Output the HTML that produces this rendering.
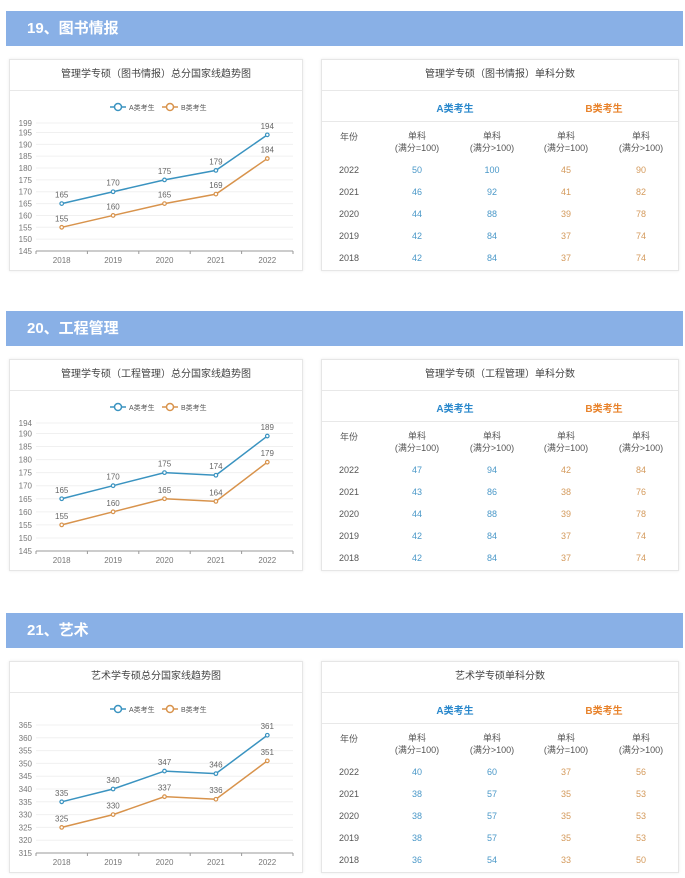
<!DOCTYPE html>
<html><head><meta charset="utf-8">
<style>
body{margin:0;width:685px;height:878px;background:#fff;font-family:"Liberation Sans","Noto Sans CJK SC",sans-serif;position:relative;overflow:hidden}
.hdr{position:absolute;left:6px;width:677px;height:35px;background:#89b0e6;color:#fff;font-weight:bold;font-size:15px;line-height:35px;padding-left:21px;box-sizing:border-box}
.card{position:absolute;background:#fff;border:1px solid #e6e6e6;box-shadow:0 0 3px rgba(0,0,0,.08);box-sizing:border-box}
.ctitle{position:absolute;left:0;right:0;top:0;height:30px;line-height:30px;text-align:center;font-size:10px;color:#444;border-bottom:1px solid #e8e8e8}
.tbl{position:absolute;font-size:9px;color:#555;text-align:center}
svg text{font-family:"Liberation Sans","Noto Sans CJK SC",sans-serif}
</style></head><body>
<div id="root"></div>
<script>
const sections=[
 {num:"19、图书情报",title:"管理学专硕（图书情报）总分国家线趋势图",ttitle:"管理学专硕（图书情报）单科分数",top:11},
 {num:"20、工程管理",title:"管理学专硕（工程管理）总分国家线趋势图",ttitle:"管理学专硕（工程管理）单科分数",top:311},
 {num:"21、艺术",title:"艺术学专硕总分国家线趋势图",ttitle:"艺术学专硕单科分数",top:613}
];
const years=["2018","2019","2020","2021","2022"];
const seriesA=[[165,170,175,179,194],[165,170,175,174,189],[335,340,347,346,361]];
const seriesB=[[155,160,165,169,184],[155,160,165,164,179],[325,330,337,336,351]];
const yTicks=[[199,195,190,185,180,175,170,165,160,155,150,145],[194,190,185,180,175,170,165,160,155,150,145],[365,360,355,350,345,340,335,330,325,320,315]];
const tableYears=["2022","2021","2020","2019","2018"];
const tA1=[[50,46,44,42,42],[47,43,44,42,42],[40,38,38,38,36]];
const tA2=[[100,92,88,84,84],[94,86,88,84,84],[60,57,57,57,54]];
const tB1=[[45,41,39,37,37],[42,38,39,37,37],[37,35,35,35,33]];
const tB2=[[90,82,78,74,74],[84,76,78,74,74],[56,53,53,53,50]];
const root=document.getElementById('root');
const cA="#3a93c0",cB="#d8934c";
sections.forEach((s,i)=>{
 const h=document.createElement('div');h.className='hdr';h.style.top=s.top+'px';h.textContent=s.num;
 root.appendChild(h);
 const ct=s.top+48;
 // chart card
 const c=document.createElement('div');c.className='card';c.style.cssText=`left:9px;top:${ct}px;width:294px;height:212px`;
 
 c.innerHTML=`<div class="ctitle">${s.title}</div>`;
 const W=294,H=212,x0=26,x1=283,yT=63,yB=191;
 const tk=yTicks[i],ymax=tk[0],ymin=tk[tk.length-1];
 const sy=v=>yB-(v-ymin)/(ymax-ymin)*(yB-yT);
 const bw=(x1-x0)/years.length;const sx=j=>x0+bw*(j+0.5);
 let g=`<svg width="${W}" height="${H}" style="position:absolute;left:0;top:0">`;
 g+=`<g><line x1="100" y1="47" x2="116" y2="47" stroke="${cA}" stroke-width="1.5"/><circle cx="108" cy="47" r="3.5" fill="#fff" stroke="${cA}" stroke-width="1.5"/><text x="119" y="50" font-size="7" fill="#555">A类考生</text>
 <line x1="152" y1="47" x2="168" y2="47" stroke="${cB}" stroke-width="1.5"/><circle cx="160" cy="47" r="3.5" fill="#fff" stroke="${cB}" stroke-width="1.5"/><text x="171" y="50" font-size="7" fill="#555">B类考生</text></g>`;
 tk.forEach(t=>{const y=sy(t);g+=`<line x1="${x0}" x2="${x1}" y1="${y}" y2="${y}" stroke="#f0f0f0"/><text x="22" y="${y+3}" font-size="8" fill="#777" text-anchor="end">${t}</text>`;});
 g+=`<line x1="${x0}" x2="${x1}" y1="${yB}" y2="${yB}" stroke="#999"/>`;
 for(let j=0;j<=years.length;j++)g+=`<line x1="${x0+bw*j}" x2="${x0+bw*j}" y1="${yB}" y2="${yB+3}" stroke="#999"/>`;
 years.forEach((yv,j)=>g+=`<text x="${sx(j)}" y="${yB+12}" font-size="8" fill="#777" text-anchor="middle">${yv}</text>`);
 [[seriesA[i],cA,'a'],[seriesB[i],cB,'b']].forEach(([d,col,n])=>{
  g+=`<polyline fill="none" stroke="${col}" stroke-width="1.5" points="${d.map((v,j)=>sx(j)+','+sy(v)).join(' ')}"/>`;
  d.forEach((v,j)=>{g+=`<circle cx="${sx(j)}" cy="${sy(v)}" r="1.8" fill="#fff" stroke="${col}" stroke-width="1.2"/><text x="${sx(j)}" y="${sy(v)-6}" font-size="8" fill="#666" text-anchor="middle">${v}</text>`;});
 });
 g+='</svg>';c.innerHTML+=g;root.appendChild(c);
 // table card
 const t=document.createElement('div');t.className='card';t.style.cssText=`left:321px;top:${ct}px;width:358px;height:212px`;
 
 let html=`<div class="ctitle">${s.ttitle}</div>`;
 html+=`<div style="position:absolute;top:30px;left:0;right:0;height:31px;border-bottom:1px solid #e8e8e8"></div>`;
 html+=`<div class="tbl" style="left:83px;width:100px;top:40px;font-size:10px;font-weight:bold;color:#2a88cc">A类考生</div>`;
 html+=`<div class="tbl" style="left:232px;width:100px;top:40px;font-size:10px;font-weight:bold;color:#e8832c">B类考生</div>`;
 const cols=[27,95,170,244,319];
 html+=`<div class="tbl" style="left:${cols[0]-25}px;width:50px;top:70px">年份</div>`;
 for(let k=1;k<5;k++)html+=`<div class="tbl" style="left:${cols[k]-35}px;width:70px;top:70px;line-height:12px">单科<br>(满分${k%2?'=':'>'}100)</div>`;
 tableYears.forEach((y,r)=>{const top=105+r*22;
  const vals=[y,tA1[i][r],tA2[i][r],tB1[i][r],tB2[i][r]];
  vals.forEach((v,k)=>{const col=k==0?'#555':k<3?'#4a98c8':'#d49a5c';
   html+=`<div class="tbl" style="left:${cols[k]-25}px;width:50px;top:${top}px;color:${col}">${v}</div>`;});
 });
 t.innerHTML=html;root.appendChild(t);
});
</script>
</body></html>
